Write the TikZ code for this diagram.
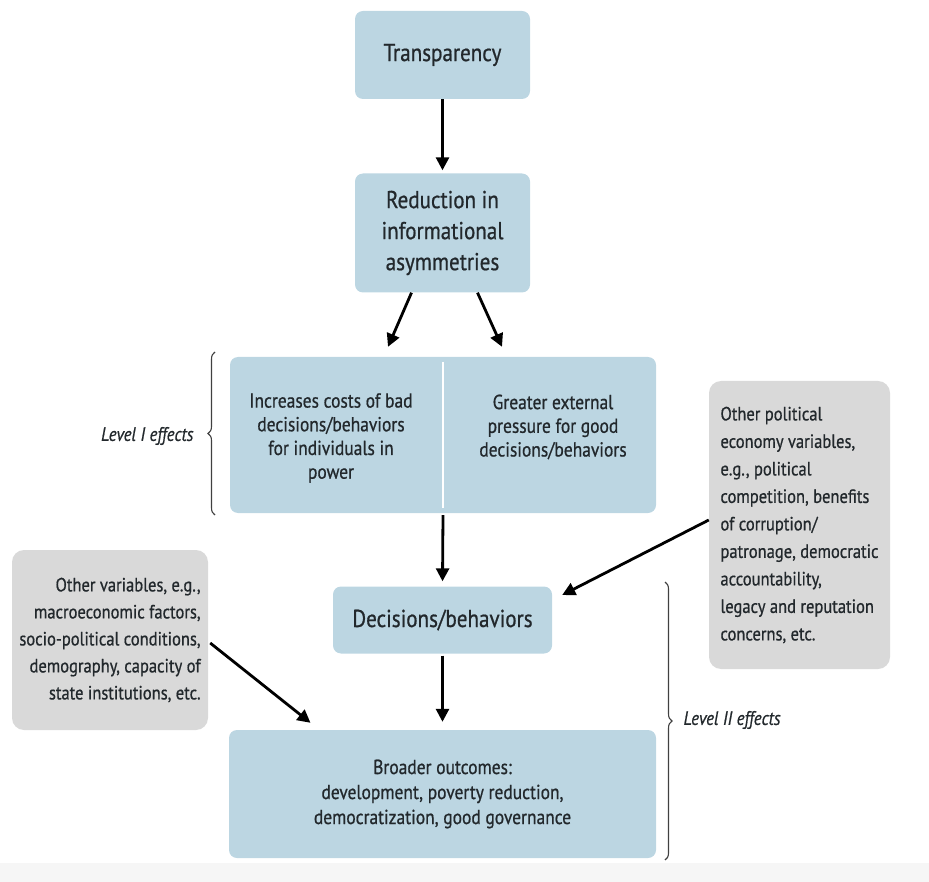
\documentclass[tikz,border=0pt]{standalone}
\usepackage{fontspec}
\setmainfont{PT Sans}[FakeStretch=0.86, FakeBold=0.7]
\usetikzlibrary{arrows.meta,calc,decorations.pathreplacing}
\definecolor{boxblue}{RGB}{188,214,226}
\definecolor{boxgray}{RGB}{217,217,217}
\definecolor{txt}{RGB}{34,40,44}
\definecolor{bandgray}{RGB}{246,246,246}
\tikzset{
  bluebox/.style={fill=boxblue, rounded corners=8pt, draw=none, text=txt, align=center, inner sep=0pt},
  graybox/.style={fill=boxgray, rounded corners=12pt, draw=none, text=txt, inner sep=0pt},
  arr/.style={line width=2.8pt, -{Triangle[length=13pt,width=13pt]}},
  bracestyle/.style={draw=black!75, line width=1.1pt, decorate},
  lbl/.style={text=txt, font=\itshape\fontsize{19.5}{22}\selectfont}
}
\begin{document}
\begin{tikzpicture}[x=1pt,y=-1pt]
\useasboundingbox (0,0) rectangle (929,882);
\fill[bandgray] (0,863) rectangle (929,882);

\node[bluebox, minimum width=175, minimum height=88, font=\fontsize{24.5}{30}\selectfont] (trans) at (442.5,55) {Transparency};
\node[bluebox, minimum width=175, minimum height=119, font=\fontsize{24.5}{31}\selectfont] (red) at (442.5,233) {Reduction in\\informational\\asymmetries};
\node[bluebox, minimum width=426, minimum height=156] (lvl) at (443,435) {};
\draw[white, line width=2pt] (443,362) -- (443,508);
\node[text=txt, align=center, font=\fontsize{20.3}{23.7}\selectfont] (lvlA) at (331,438) {Increases costs of bad\\decisions/behaviors\\for individuals in\\power};
\node[text=txt, align=center, font=\fontsize{20.3}{23.7}\selectfont] (lvlB) at (553,427) {Greater external\\pressure for good\\decisions/behaviors};
\node[bluebox, minimum width=219, minimum height=67, font=\fontsize{24.5}{30}\selectfont] (dec) at (442.5,620) {Decisions/behaviors};
\node[bluebox, minimum width=427, minimum height=128, font=\fontsize{20.3}{25}\selectfont] (out) at (442.5,794) {Broader outcomes:\\development, poverty reduction,\\democratization, good governance};

\node[graybox, minimum width=196, minimum height=180, align=right, font=\fontsize{19.2}{27}\selectfont] (gl) at (110,640) {Other variables, e.g.,\\macroeconomic factors,\\socio-political conditions,\\demography, capacity of\\state institutions, etc.};
\node[graybox, minimum width=181, minimum height=288, align=left, font=\fontsize{19.2}{27.5}\selectfont] (gr) at (799.5,525) {Other political\\economy variables,\\e.g., political\\competition, benefits\\of corruption/\\patronage, democratic\\accountability,\\legacy and reputation\\concerns, etc.};

\draw[arr] (trans.south) -- ($(red.north)+(0,-3)$);
\draw[arr] ($(red.south)+(-31,0)$) -- ($(lvl.north)+(-55,-10)$);
\draw[arr] ($(red.south)+(35,0)$) -- ($(lvl.north)+(59,-10)$);
\draw[arr] ($(lvl.south)+(0,2)$) -- ($(dec.north)+(0,-5)$);
\draw[arr] ($(dec.south)+(0,2)$) -- ($(out.north)+(0,-8)$);
\draw[arr] ($(gl.east)+(2,3)$) -- ($(out.north)+(-132,-7)$);
\draw[arr] ($(gr.west)+(0,-5)$) -- ($(dec.east)+(10,-25)$);

\coordinate (b1s) at (215,515);
\coordinate (b1e) at (215,352);
\draw[bracestyle, decoration={brace, amplitude=7pt}] (b1s) -- (b1e);
\node[lbl, anchor=east] (lev1) at (197,436) {Level I effects};

\coordinate (b2s) at (665,582);
\coordinate (b2e) at (665,860);
\draw[bracestyle, decoration={brace, amplitude=7pt}] (b2s) -- (b2e);
\node[lbl, anchor=west] (lev2) at (680,720) {Level II effects};
\end{tikzpicture}
\end{document}
